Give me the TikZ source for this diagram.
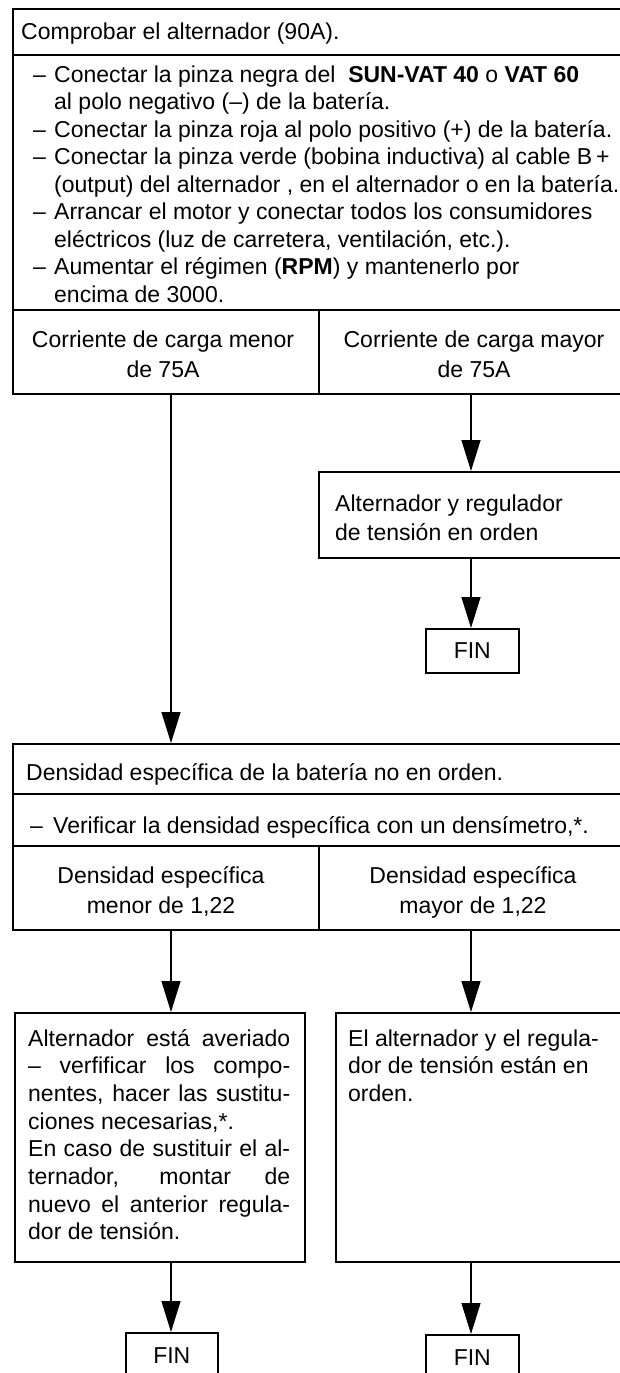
\documentclass[tikz,border=0pt]{standalone}
\usepackage{fontspec}
\setmainfont{Liberation Sans}
\usetikzlibrary{arrows.meta}
\newcommand\mydash{\makebox[21pt][l]{–}}
\begin{document}
\begin{tikzpicture}[x=1pt,y=-1pt,
  box/.style={draw, line width=1.6pt, rectangle, inner sep=0pt, anchor=north west},
  txt/.style={anchor=base west, inner sep=0pt},
  ctr/.style={anchor=base, inner sep=0pt},
  arr/.style={line width=1.3pt, -{Triangle[length=31pt,width=19pt]}},
  font=\fontsize{23}{27.5}\selectfont]
\path[use as bounding box, fill=white] (0,0) rectangle (620,1373);
\clip (0,0) rectangle (620,1373);
% coordinates for arrow columns
\coordinate (xL) at (171,0);
\coordinate (xR) at (471,0);
% top block
\node[box, minimum width=618pt, minimum height=46pt] (title) at (12,8) {};
\node[box, minimum width=618pt, minimum height=255pt] (list) at (12,54) {};
\node[box, minimum width=306pt, minimum height=84pt] (cellL) at (12,309) {};
\node[box, minimum width=312pt, minimum height=84pt] (cellR) at (318,309) {};
\node[box, minimum width=312pt, minimum height=86pt] (ok) at (318,471) {};
\node[box, minimum width=93pt, minimum height=44pt] (fin1) at (425,628) {FIN};
% second block
\node[box, minimum width=618pt, minimum height=50pt] (dens) at (12,743) {};
\node[box, minimum width=618pt, minimum height=52pt] (verif) at (12,793) {};
\node[box, minimum width=306pt, minimum height=84pt] (dL) at (12,845) {};
\node[box, minimum width=312pt, minimum height=84pt] (dR) at (318,845) {};
\node[box, minimum width=290pt, minimum height=249pt] (bad) at (14,1012) {};
\node[box, minimum width=295pt, minimum height=249pt] (good) at (335,1012) {};
\node[box, minimum width=92pt, minimum height=46pt] (fin2) at (125,1332) {FIN};
\node[box, minimum width=93pt, minimum height=46pt] (fin3) at (425,1334) {FIN};
% arrows
\draw[arr] (cellL.south -| xL) -- (dens.north -| xL);
\draw[arr] (cellR.south -| xR) -- (ok.north -| xR);
\draw[arr] (ok.south -| xR) -- (fin1.north -| xR);
\draw[arr] (dL.south -| xL) -- (bad.north -| xL);
\draw[arr] (dR.south -| xR) -- (good.north -| xR);
\draw[arr] (bad.south -| xL) -- (fin2.north -| xL);
\draw[arr] (good.south -| xR) -- (fin3.north -| xR);
% texts top block
\node[txt] (t0) at (21,39) {Comprobar el alternador (90A).};
\node[txt] (l1) at (33,82) {\mydash Conectar la pinza negra del \ \textbf{SUN-VAT 40} o \textbf{VAT 60}};
\node[txt] (l2) at (54,109.5) {al polo negativo (–) de la batería.};
\node[txt] (l3) at (33,137) {\mydash Conectar la pinza roja al polo positivo (+) de la batería.};
\node[txt] (l4) at (33,164.5) {\mydash Conectar la pinza verde (bobina inductiva) al cable B\,+};
\node[txt] (l5) at (54,192) {(output) del alternador , en el alternador o en la batería.};
\node[txt] (l6) at (33,219.5) {\mydash Arrancar el motor y conectar todos los consumidores};
\node[txt] (l7) at (54,247) {eléctricos (luz de carretera, ventilación, etc.).};
\node[txt] (l8) at (33,274.5) {\mydash Aumentar el régimen (\textbf{RPM}) y mantenerlo por};
\node[txt] (l9) at (54,302) {encima de 3000.};
\node[ctr] (c1a) at (163,347) {Corriente de carga menor};
\node[ctr] (c1b) at (163,377) {de 75A};
\node[ctr] (c2a) at (474,347) {Corriente de carga mayor};
\node[ctr] (c2b) at (474,377) {de 75A};
\node[txt] (o1) at (335,511) {Alternador y regulador};
\node[txt] (o2) at (335,540) {de tensión en orden};
% texts second block
\node[txt] (d0) at (26,780) {Densidad específica de la batería no en orden.};
\node[txt] (v0) at (30,833) {\makebox[23pt][l]{–}Verificar la densidad específica con un densímetro,*.};
\node[ctr] (dl1) at (161,883) {Densidad específica};
\node[ctr] (dl2) at (161,913) {menor de 1,22};
\node[ctr] (dr1) at (473,883) {Densidad específica};
\node[ctr] (dr2) at (473,913) {mayor de 1,22};
% bad box text
\node[txt] (b1) at (28,1046) {\makebox[262pt][s]{Alternador está averiado}};
\node[txt] (b2) at (28,1073.7) {\makebox[262pt][s]{– verfificar los compo-}};
\node[txt] (b3) at (28,1101.4) {\makebox[262pt][s]{nentes, hacer las sustitu-}};
\node[txt] (b4) at (28,1129.1) {ciones necesarias,*.};
\node[txt] (b5) at (28,1156.8) {\makebox[262pt][s]{En caso de sustituir el al-}};
\node[txt] (b6) at (28,1184.5) {\makebox[262pt][s]{ternador, montar de}};
\node[txt] (b7) at (28,1212.2) {\makebox[262pt][s]{nuevo el anterior regula-}};
\node[txt] (b8) at (28,1239.9) {dor de tensión.};
% good box text
\node[txt] (g1) at (348,1046) {El alternador y el regula-};
\node[txt] (g2) at (348,1073.7) {dor de tensión están en};
\node[txt] (g3) at (348,1101.4) {orden.};
\end{tikzpicture}
\end{document}
